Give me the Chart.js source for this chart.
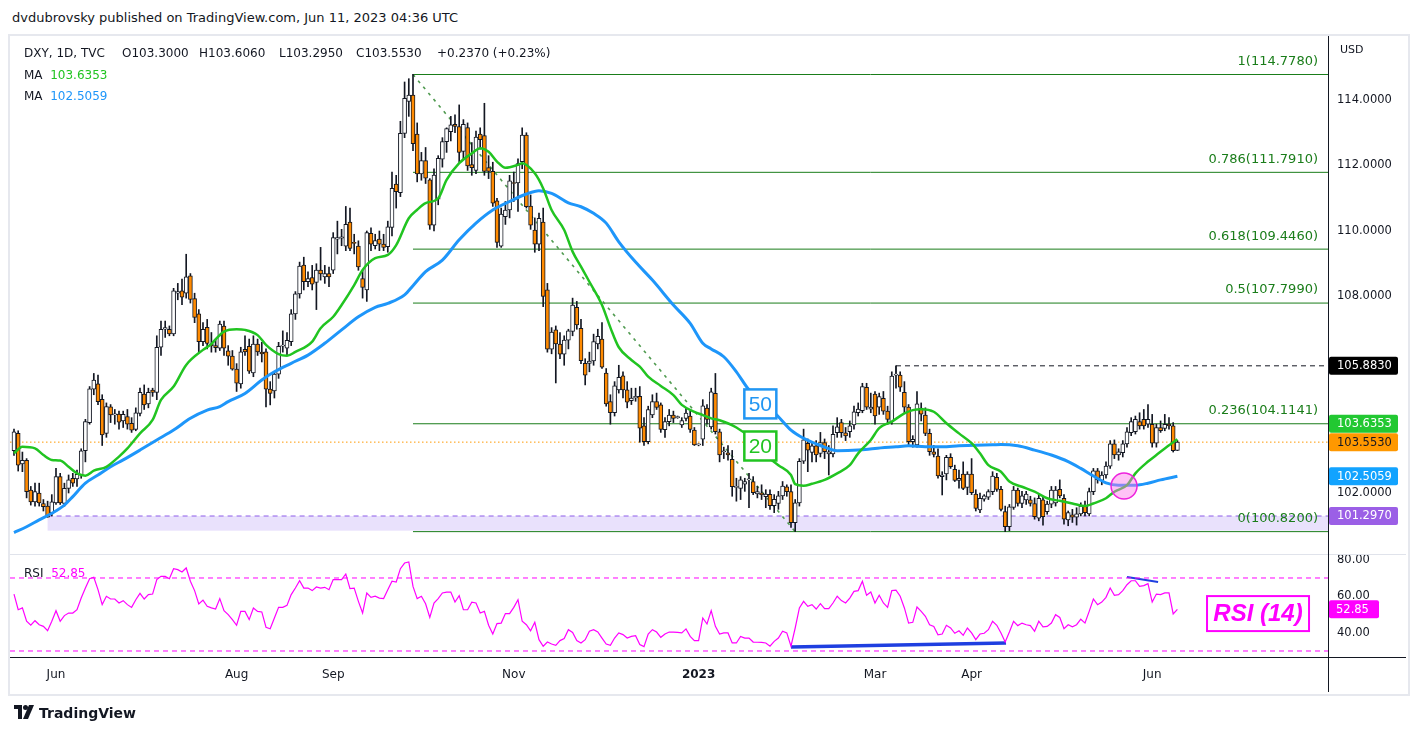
<!DOCTYPE html>
<html>
<head>
<meta charset="utf-8">
<script src="https://cdn.jsdelivr.net/npm/chart.js@4.4.1/dist/chart.umd.min.js"></script>
<style>
  html, body { margin: 0; padding: 0; background: #fff; width: 1418px; height: 736px; overflow: hidden;
    font-family: "DejaVu Sans", sans-serif; color: #131722; }
  #head { position: absolute; left: 12px; top: 10px; font-size: 13px; }
  #frame { position: absolute; left: 8px; top: 34px; width: 1398px; height: 658px; border: 2px solid #e6e8ee; }
  canvas { position: absolute; }
  #cp { left: 10px; top: 36px; }
  #cr { left: 10px; top: 554px; }
  .line { position: absolute; }
  .leg { position: absolute; font-size: 12px; white-space: pre; line-height: 14px; }
  #foot { position: absolute; left: 14px; top: 705px; font-size: 14px; font-weight: bold; }
</style>
</head>
<body>
<div id="head">dvdubrovsky published on TradingView.com, Jun 11, 2023 04:36 UTC</div>
<div id="frame"></div>
<canvas id="cp" width="1395" height="518"></canvas>
<canvas id="cr" width="1395" height="138"></canvas>

<!-- pane separators / axis borders -->
<div class="line" style="left:10px;top:554px;width:1396px;height:1px;background:#e0e3eb"></div>
<div class="line" style="left:10px;top:657px;width:1396px;height:1px;background:#131722"></div>
<div class="line" style="left:1328px;top:36px;width:1px;height:656px;background:#131722"></div>

<div class="leg" style="left:24px;top:46px">DXY, 1D, TVC</div>
<div class="leg" style="left:122px;top:46px">O103.3000</div>
<div class="leg" style="left:199px;top:46px">H103.6060</div>
<div class="leg" style="left:279px;top:46px">L103.2950</div>
<div class="leg" style="left:356px;top:46px">C103.5530</div>
<div class="leg" style="left:437px;top:46px">+0.2370 (+0.23%)</div>
<div class="leg" style="left:24px;top:68px">MA  <span style="color:#21c421">103.6353</span></div>
<div class="leg" style="left:24px;top:89px">MA  <span style="color:#1e96fa">102.5059</span></div>
<div class="leg" style="left:1340px;top:43px;font-size:11px">USD</div>
<div class="leg" style="left:24px;top:566px">RSI  <span style="color:#ff00ff">52.85</span></div>

<div id="foot">
  <svg width="22" height="14" viewBox="0 0 22 14" style="vertical-align:-1px;margin-right:3px">
    <path d="M0 0h8v14h-4V4H0z" fill="#131722"/>
    <circle cx="11.5" cy="2.5" r="2.5" fill="#131722"/>
    <path d="M15 0h5l-6 14h-5z" fill="#131722"/>
  </svg>TradingView
</div>

<script>
// ---- candles (bar index 0 = 18 May 2022 ... 277 = 9 Jun 2023) ----
const openP = [
  103.29,103.82,102.89,103.00,102.09,101.73,102.00,101.68,101.60,101.40,
  101.70,102.50,101.68,102.14,102.45,102.43,102.55,103.29,104.15,105.17,
  105.33,104.86,103.82,104.63,104.38,104.41,104.20,104.33,104.13,103.94,
  104.43,105.02,104.72,105.14,105.07,106.45,107.00,107.00,106.86,108.10,
  108.17,108.10,108.63,107.94,107.47,106.62,107.06,106.55,106.50,106.42,
  107.10,106.34,106.18,105.78,105.33,106.39,106.48,105.67,106.55,106.30,
  106.31,105.17,105.12,105.63,106.48,106.42,106.62,107.47,108.08,108.96,
  108.45,108.58,108.43,108.81,108.60,108.70,108.80,109.75,109.78,109.54,
  110.27,109.65,109.54,108.55,108.20,109.93,109.55,109.75,109.60,109.52,
  110.11,111.43,111.17,112.98,113.96,114.15,112.96,111.74,112.15,111.56,
  110.18,110.97,112.19,112.73,113.03,113.26,113.19,112.43,113.16,112.03,
  111.85,112.96,112.91,111.94,111.82,110.92,109.54,110.44,110.64,111.48,
  111.47,112.12,112.93,110.76,110.03,109.60,110.27,108.20,106.39,106.98,
  106.55,106.24,106.67,106.93,107.67,107.03,105.96,105.96,106.03,106.55,
  106.70,105.66,104.79,104.45,105.15,105.58,105.15,104.82,104.90,104.95,
  104.05,103.57,104.38,104.79,104.69,103.93,104.18,104.38,104.30,104.08,
  104.28,104.35,103.92,103.47,103.64,104.59,104.02,105.04,103.87,103.26,
  103.23,103.03,102.17,102.14,102.27,102.40,102.35,101.97,102.00,101.89,
  101.96,101.61,101.68,101.91,102.19,102.04,101.09,101.70,102.97,103.52,
  103.24,103.44,103.21,103.54,103.19,103.19,103.84,104.15,103.84,103.87,
  104.08,104.45,104.51,105.23,104.56,105.02,104.62,104.89,104.50,104.18,
  105.60,105.60,105.07,104.62,103.57,103.47,104.59,104.38,103.82,103.26,
  103.13,102.50,102.58,103.09,102.72,102.38,102.58,102.17,102.58,101.97,
  101.48,101.81,101.87,102.04,102.48,102.11,101.43,100.97,101.56,102.09,
  101.68,101.79,101.79,101.68,101.23,101.79,101.43,101.66,101.70,102.11,
  101.84,101.18,101.33,101.26,101.36,101.60,101.36,102.04,102.68,102.38,
  102.55,102.82,103.50,103.16,103.23,103.50,103.84,103.87,104.18,104.25,
  104.10,104.10,103.52,104.00,103.97,104.10,104.05,103.30
];
const highP = [
  103.95,103.90,103.25,103.05,102.20,102.30,102.30,101.80,101.75,101.95,
  102.75,102.60,102.30,102.55,102.60,102.70,103.35,104.25,105.25,105.65,
  105.60,105.00,104.75,104.70,104.55,104.50,104.50,104.55,104.30,104.60,
  105.20,105.30,105.20,105.20,106.80,107.25,107.25,107.10,108.25,108.40,
  108.53,109.29,108.70,108.10,107.60,107.20,107.30,106.90,106.70,107.25,
  107.25,106.50,106.35,105.95,106.45,106.80,106.70,106.80,106.70,106.60,
  106.40,105.40,105.70,106.60,106.95,106.90,107.60,108.15,109.05,109.20,
  108.75,108.95,109.00,109.50,108.95,108.90,109.95,110.30,110.05,110.75,
  110.70,109.90,109.70,108.80,110.00,110.10,109.90,110.00,109.90,110.30,
  111.80,111.70,113.35,114.55,114.65,114.78,113.30,112.40,112.55,111.60,
  111.90,112.30,112.85,113.15,113.50,113.55,113.85,113.40,113.30,112.70,
  113.05,113.15,113.90,112.30,112.10,111.00,110.70,110.90,111.70,111.80,
  112.20,113.15,113.00,111.10,110.40,110.55,110.70,108.40,107.05,107.10,
  106.90,106.80,107.00,107.95,107.85,107.30,106.10,106.30,106.85,107.00,
  107.20,105.80,105.00,105.40,105.90,105.70,105.40,105.20,105.20,105.25,
  104.30,104.65,105.00,105.05,104.75,104.30,104.55,104.50,104.35,104.30,
  104.60,104.50,104.00,103.50,104.85,104.70,105.20,105.65,103.95,103.40,
  103.45,103.30,102.45,102.50,102.45,102.60,102.50,102.20,102.25,102.10,
  102.10,101.95,102.05,102.35,102.25,102.25,101.80,103.05,103.95,103.65,
  103.55,103.60,103.85,103.65,103.45,104.05,104.30,104.25,104.00,104.20,
  104.65,104.75,105.35,105.35,105.05,105.10,105.05,105.10,104.65,105.70,
  105.88,105.70,105.40,104.70,103.75,105.10,104.75,104.60,103.95,103.45,
  103.35,102.65,103.15,103.20,102.85,102.70,102.95,102.65,103.05,102.10,
  102.00,101.95,102.10,102.65,102.60,102.20,101.60,101.65,102.20,102.15,
  102.05,102.05,101.90,101.85,101.95,101.90,101.75,102.20,102.20,102.40,
  101.95,101.45,101.50,101.55,101.70,101.75,102.15,102.75,102.75,102.65,
  102.95,103.60,103.62,103.35,103.60,104.00,104.30,104.35,104.45,104.55,
  104.70,104.40,104.10,104.20,104.40,104.30,104.15,103.606
];
const lowP = [
  103.15,102.67,102.65,101.85,101.63,101.60,101.60,101.45,101.26,101.30,
  101.65,101.65,101.60,102.00,102.20,102.20,102.45,102.95,104.10,105.00,
  104.70,103.45,103.70,104.15,104.10,103.95,104.00,103.95,103.85,103.90,
  104.35,104.55,104.60,104.95,104.85,106.20,106.75,106.80,106.80,107.90,
  107.75,107.95,107.80,107.20,106.30,106.50,106.40,106.30,106.30,106.35,
  106.20,105.90,105.75,105.10,105.20,106.20,105.65,105.55,106.20,106.00,
  104.63,104.69,104.90,105.50,106.30,106.20,106.50,107.30,107.95,108.20,
  108.30,108.20,107.60,108.50,108.40,108.30,108.70,109.30,109.55,109.40,
  109.40,109.30,108.80,107.95,107.85,109.40,109.45,109.40,109.40,109.35,
  109.85,110.70,111.05,112.85,113.50,112.45,111.50,111.55,111.45,110.05,
  110.00,110.80,111.95,112.40,112.75,113.00,112.10,112.20,111.85,111.70,
  111.75,112.50,111.70,111.60,110.75,109.50,109.50,110.20,110.40,110.90,
  110.60,111.90,110.70,110.05,109.35,109.40,107.69,106.30,106.25,105.36,
  106.10,105.90,106.40,106.80,107.00,105.95,105.30,105.70,105.90,106.40,
  105.80,104.65,104.10,104.35,105.05,104.90,104.60,104.70,104.80,103.55,
  103.45,103.50,104.30,104.55,103.85,103.70,104.05,104.15,104.28,104.00,
  104.20,103.85,103.45,103.44,103.45,104.10,103.95,103.80,102.95,103.05,
  103.00,101.90,101.75,101.80,102.05,101.55,101.95,101.85,101.80,101.55,
  101.50,101.40,101.50,101.80,101.90,100.95,100.82,101.60,102.90,102.65,
  102.95,102.95,103.10,103.05,102.55,103.10,103.70,103.70,103.60,103.70,
  103.95,104.35,104.45,104.55,104.45,104.10,104.40,104.40,104.10,104.10,
  105.20,105.10,104.45,103.45,103.40,103.40,104.20,103.75,103.15,103.10,
  102.45,101.94,102.40,102.75,102.35,102.15,102.10,101.95,101.95,101.45,
  101.40,101.75,101.80,101.95,102.05,101.45,100.82,100.85,101.50,101.60,
  101.55,101.65,101.60,101.20,101.15,101.02,101.35,101.55,101.60,101.85,
  101.05,101.00,101.10,101.02,101.30,101.30,101.30,101.95,102.30,102.25,
  102.45,102.75,103.05,103.00,103.10,103.40,103.75,103.80,103.95,103.95,
  104.00,103.40,103.40,103.85,103.90,103.95,103.25,103.295
];
const closeP = [
  103.87,102.85,103.00,102.04,101.73,102.04,101.70,101.58,101.26,101.73,
  102.50,101.70,102.14,102.40,102.30,102.57,103.29,104.18,105.18,105.45,
  104.79,103.77,104.64,104.38,104.42,104.16,104.40,104.10,103.92,104.45,
  105.07,104.69,105.07,105.07,106.45,107.00,107.05,106.86,108.17,108.15,
  107.98,108.60,107.91,107.36,106.62,107.00,106.57,106.49,106.44,107.16,
  106.42,106.18,105.78,105.35,106.31,106.31,105.72,106.55,106.31,106.25,
  105.17,105.04,105.63,106.48,106.52,106.66,107.47,108.08,108.93,108.45,
  108.55,108.38,108.81,108.69,108.70,108.60,109.80,109.80,109.82,110.20,
  109.47,109.62,108.90,108.28,109.95,109.60,109.71,109.60,109.50,110.13,
  111.30,111.20,112.98,114.05,114.15,112.67,111.74,112.15,111.61,110.18,
  111.71,112.22,112.73,113.13,113.24,113.19,112.40,113.26,111.99,111.93,
  112.87,112.79,111.82,111.82,110.85,109.65,110.52,110.64,111.53,111.45,
  112.06,112.93,110.74,110.18,109.60,110.39,108.00,106.39,106.91,106.55,
  106.24,106.67,106.95,107.74,107.13,106.04,105.60,106.03,106.62,106.78,
  105.84,104.72,104.45,105.27,105.53,105.15,104.77,104.90,104.95,103.98,
  103.57,104.55,104.79,104.61,103.94,104.18,104.38,104.28,104.31,104.21,
  104.44,103.94,103.47,103.47,104.66,104.25,105.09,103.87,103.16,103.26,
  103.16,102.19,102.17,102.40,102.35,102.42,102.01,102.04,101.95,101.97,
  101.61,101.81,101.91,102.21,102.04,101.09,101.70,102.97,103.62,103.31,
  103.44,103.16,103.54,103.26,103.26,103.79,104.02,103.84,103.74,104.05,
  104.48,104.56,105.25,104.62,104.62,104.35,104.94,104.50,104.25,105.57,
  105.63,105.23,104.62,103.57,103.64,104.72,104.41,103.82,103.26,103.18,
  102.52,102.55,103.09,102.80,102.38,102.45,102.14,102.58,102.01,101.53,
  101.84,101.91,102.04,102.52,102.11,101.50,100.97,101.58,102.09,101.68,
  101.91,101.97,101.68,101.28,101.84,101.28,101.66,102.09,102.09,101.91,
  101.20,101.40,101.26,101.36,101.60,101.40,102.04,102.68,102.40,102.55,
  102.82,103.50,103.16,103.26,103.50,103.87,104.18,104.25,104.05,104.05,
  104.25,103.52,104.00,103.90,104.10,104.05,103.29,103.553
];

// ---- moving averages (bar index, value) ----
const ma20Idx = [0,2,5,7,9,11,13,15,17,19,22,25,27,30,33,35,38,41,45,47,48,50,53,55,58,60,63,65,67,71,73,76,78,81,83,86,89,91,94,96,98,101,103,106,109,111,113,115,117,120,121,124,126,128,131,133,135,137,140,142,144,147,149,151,154,157,159,162,164,166,168,172,176,179,182,185,186,188,190,193,196,199,201,204,206,209,212,214,216,219,222,225,228,230,232,235,237,240,243,246,249,252,255,257,260,262,265,267,270,272,274,277];
const ma20Val = [103.21,103.41,103.36,103.16,103.01,102.99,102.80,102.60,102.53,102.68,102.80,103.11,103.36,103.82,104.23,104.84,105.25,105.91,106.37,106.55,106.69,106.93,107.00,106.98,106.82,106.52,106.24,106.19,106.31,106.62,107.03,107.38,107.74,108.35,108.81,109.17,109.27,109.57,110.39,110.65,110.85,111.00,111.56,112.07,112.37,112.53,112.42,112.12,111.93,112.02,112.07,111.76,111.30,110.64,110.03,109.37,108.91,108.45,107.74,107.05,106.45,106.06,105.86,105.55,105.27,104.99,104.69,104.48,104.38,104.28,104.22,104.00,103.62,103.16,102.85,102.55,102.27,102.22,102.28,102.40,102.60,102.85,103.21,103.62,103.98,104.18,104.43,104.53,104.56,104.48,104.13,103.82,103.52,103.21,102.85,102.65,102.35,102.19,102.04,101.84,101.76,101.68,101.60,101.68,101.84,102.04,102.24,102.60,102.96,103.16,103.36,103.64];
const ma50Idx = [0,3,6,9,12,14,17,20,23,26,30,34,38,42,46,49,51,55,59,62,66,70,74,78,82,86,89,93,95,98,102,106,110,114,118,122,125,128,132,135,138,141,144,148,152,157,161,164,166,169,172,175,178,182,185,188,192,196,201,205,210,213,217,221,225,229,233,235,239,243,247,251,254,257,260,263,267,270,273,277];
const ma50Val = [100.79,100.97,101.18,101.38,101.63,101.89,102.30,102.55,102.80,103.01,103.31,103.62,103.92,104.28,104.53,104.64,104.79,105.04,105.45,105.70,105.96,106.21,106.57,106.98,107.38,107.67,107.79,108.05,108.33,108.76,109.11,109.73,110.24,110.64,110.90,111.13,111.23,111.15,110.86,110.74,110.54,110.24,109.67,109.05,108.50,107.74,107.18,106.57,106.40,106.16,105.70,105.15,104.84,104.33,103.92,103.67,103.45,103.29,103.31,103.36,103.41,103.44,103.41,103.41,103.44,103.46,103.47,103.48,103.44,103.31,103.16,102.96,102.75,102.52,102.31,102.24,102.24,102.30,102.40,102.51];

// ---- RSI(14), one value per bar ----
const rsiVal = [
  61.2,52.6,53.6,46.3,44.1,46.6,44.4,43.5,41.1,46.3,
  52.1,46.3,49.4,50.8,50.8,52.6,59.0,64.5,69.6,70.4,
  63.6,55.4,60.0,58.5,58.5,56.3,57.6,55.4,53.9,58.1,
  61.6,58.5,60.9,61.2,69.1,70.9,70.9,69.6,75.1,74.6,
  73.3,75.5,68.2,63.1,55.8,57.9,54.5,53.6,53.0,58.7,
  52.1,49.9,47.2,44.1,51.7,51.7,47.2,53.6,51.7,51.4,
  43.0,42.2,48.1,53.9,53.9,55.0,60.9,64.5,68.5,64.5,
  64.5,63.1,65.1,64.5,64.9,63.6,69.1,69.1,69.1,72.2,
  64.2,64.5,57.2,50.8,61.8,59.4,60.0,59.0,58.7,63.6,
  68.2,67.8,75.1,78.2,78.8,65.4,58.7,60.0,55.9,48.4,
  56.3,58.7,61.8,62.3,62.3,56.8,60.3,52.6,52.6,56.8,
  56.3,50.8,51.7,44.1,39.3,45.0,45.3,50.5,50.5,53.9,
  58.1,46.3,44.4,41.1,45.7,36.2,32.6,34.9,33.8,33.1,
  35.7,36.8,41.7,40.2,35.7,34.4,36.2,40.8,41.7,40.4,
  37.1,33.8,33.1,37.1,39.9,39.0,37.1,38.0,38.4,33.5,
  32.4,39.3,41.7,40.4,37.5,39.3,40.4,40.3,40.2,39.9,
  42.1,38.0,35.7,35.7,48.1,44.8,52.1,43.5,39.3,39.9,
  39.9,34.4,34.4,38.0,37.1,37.1,34.9,34.8,34.7,34.4,
  32.6,35.3,37.1,40.8,39.9,32.6,42.6,53.6,57.2,54.5,
  55.4,53.0,55.9,53.2,53.2,56.3,60.0,57.6,56.3,59.0,
  62.7,63.1,68.2,60.5,62.3,56.3,60.5,56.3,53.9,63.1,
  63.4,60.0,53.6,45.3,45.7,54.1,51.7,49.0,44.4,43.5,
  38.9,39.3,44.1,42.6,39.7,41.1,38.6,42.6,39.9,36.2,
  39.3,39.7,41.7,46.3,44.1,39.9,34.9,40.4,46.3,43.9,
  45.3,44.4,43.9,40.8,46.3,43.2,43.5,45.3,49.9,48.4,
  42.2,44.4,43.3,44.4,47.4,45.3,51.7,58.5,55.4,56.8,
  59.4,64.5,60.5,60.9,63.1,66.3,68.5,68.5,65.4,65.8,
  66.9,56.8,61.2,60.9,61.8,61.8,50.3,52.85
];

// ---- drawings ----
const fibStart = 95;
const fibLevels = [114.778, 111.791, 109.446, 107.799, 104.1141, 100.82];
const fibLabels = ['1(114.7780)', '0.786(111.7910)', '0.618(109.4460)', '0.5(107.7990)', '0.236(104.1141)', '0(100.8200)'];
const trendIdx = [95, 186];
const trendVal = [114.778, 100.82];
const supportLevel = 101.297, supportStart = 8, zoneBottom = 100.85;
const highLevel = 105.883, highStart = 210;
const lastPrice = 103.553;
const divLowIdx = [185, 236.2], divLowVal = [32.2, 34.4];
const divHighIdx = [265, 272.4], divHighVal = [70.5, 67.8];

const monthIdx = [10, 53, 76, 119, 163, 205, 228, 271];
const monthLabels = ['Jun', 'Aug', 'Sep', 'Nov', '2023', 'Mar', 'Apr', 'Jun'];
const priceTicks = [102, 108, 110, 112, 114];
const rsiTicks = [40, 60, 80];

const xMin = -0.952, xMax = 312.86;
const FONT = 'DejaVu Sans';
const GREEN = '#21c421', BLUE = '#1e96fa', FIB = '#1a7d1a', MAG = '#ff00ff';

Chart.defaults.font.family = FONT;
Chart.defaults.color = '#131722';

const idx = closeP.map((_, i) => i);
const seg = (a, b, v) => [{ x: a, y: v }, { x: b, y: v }];
const pts = (xs, ys) => xs.map((x, k) => ({ x: x, y: ys[k] }));

const lineBase = { type: 'line', pointRadius: 0, fill: false, borderWidth: 1 };

const priceDatasets = [
  { type: 'bar', data: idx.map(i => ({ x: i, y: [lowP[i], highP[i]] })), backgroundColor: '#131722',
    barThickness: 1, grouped: false, order: 6 },
  { type: 'bar', data: idx.map(i => ({ x: i, y: [openP[i], closeP[i]] })),
    backgroundColor: idx.map(i => closeP[i] >= openP[i] ? '#ffffff' : '#ff8a00'),
    borderColor: '#131722', borderWidth: 1, borderSkipped: false, barThickness: 4, minBarLength: 1,
    grouped: false, order: 5 },
  Object.assign({}, lineBase, { data: pts(ma50Idx, ma50Val), borderColor: BLUE, borderWidth: 3,
    cubicInterpolationMode: 'monotone', order: 2 }),
  Object.assign({}, lineBase, { data: pts(ma20Idx, ma20Val), borderColor: GREEN, borderWidth: 2.5,
    cubicInterpolationMode: 'monotone', order: 1 }),
  Object.assign({}, lineBase, { data: pts(trendIdx, trendVal), borderColor: '#4f9a4f', borderWidth: 1.6,
    borderDash: [3, 5], order: 9 }),
  Object.assign({}, lineBase, { data: seg(supportStart, xMax, supportLevel), borderColor: '#8d5ce8', borderDash: [5, 4], order: 9 }),
  Object.assign({}, lineBase, { data: seg(highStart, xMax, highLevel), borderColor: '#131722', borderDash: [5, 4], order: 9 }),
  Object.assign({}, lineBase, { data: seg(xMin, xMax, lastPrice), borderColor: '#ff9800', borderDash: [1.5, 2.5], order: 9 })
];
fibLevels.forEach(v => priceDatasets.push(Object.assign({}, lineBase, {
  data: seg(fibStart, xMax, v), borderColor: FIB, order: 10 })));

function roundRect(ctx, x, y, w, h, r) {
  ctx.beginPath();
  ctx.moveTo(x + r, y); ctx.lineTo(x + w - r, y); ctx.quadraticCurveTo(x + w, y, x + w, y + r);
  ctx.lineTo(x + w, y + h - r); ctx.quadraticCurveTo(x + w, y + h, x + w - r, y + h);
  ctx.lineTo(x + r, y + h); ctx.quadraticCurveTo(x, y + h, x, y + h - r);
  ctx.lineTo(x, y + r); ctx.quadraticCurveTo(x, y, x + r, y); ctx.closePath();
}

function tag(ctx, left, yc, w, text, bg, fg) {
  ctx.fillStyle = bg;
  roundRect(ctx, left, yc - 9, w, 18, 2);
  ctx.fill();
  ctx.fillStyle = fg;
  ctx.font = '11.5px ' + FONT;
  ctx.textAlign = 'left';
  ctx.textBaseline = 'middle';
  ctx.fillText(text, left + 8, yc + 0.5);
}

const priceOverlay = {
  id: 'priceOverlay',
  beforeDatasetsDraw(chart) {
    const { ctx, chartArea: a, scales: { x, y } } = chart;
    const x0 = x.getPixelForValue(supportStart);
    const y0 = y.getPixelForValue(supportLevel), y1 = y.getPixelForValue(zoneBottom);
    ctx.save();
    ctx.fillStyle = '#e9e1fc';
    ctx.fillRect(x0, y0, a.right - x0, y1 - y0);
    ctx.restore();
  },
  afterDatasetsDraw(chart) {
    const { ctx, chartArea: a, scales: { x, y } } = chart;
    ctx.save();
    // fib labels
    ctx.font = '13px ' + FONT;
    ctx.fillStyle = FIB;
    ctx.textAlign = 'right';
    ctx.textBaseline = 'middle';
    fibLevels.forEach((v, k) => ctx.fillText(fibLabels[k], a.right - 10, y.getPixelForValue(v) - 13));

    // small anchor tick at the start of the swing-high line
    const hx = x.getPixelForValue(highStart), hy = y.getPixelForValue(highLevel);
    ctx.strokeStyle = '#131722';
    ctx.lineWidth = 1;
    ctx.beginPath();
    ctx.moveTo(hx, hy);
    ctx.lineTo(hx, hy + 7);
    ctx.stroke();

    // 50 / 20 boxes
    const boxes = [{ t: '50', v: 104.72, c: '#2196f3' }, { t: '20', v: 103.435, c: GREEN }];
    boxes.forEach(b => {
      const cx = x.getPixelForValue(177.7), cy = y.getPixelForValue(b.v);
      ctx.fillStyle = '#fff';
      ctx.fillRect(cx - 16, cy - 14.5, 32, 29);
      ctx.strokeStyle = b.c;
      ctx.lineWidth = 2.5;
      ctx.strokeRect(cx - 16, cy - 14.5, 32, 29);
      ctx.fillStyle = b.c;
      ctx.font = '21px "Liberation Sans"';
      ctx.textAlign = 'center';
      ctx.textBaseline = 'middle';
      ctx.fillText(b.t, cx, cy + 1);
    });

    // crossover circle
    ctx.beginPath();
    ctx.arc(x.getPixelForValue(264.3), y.getPixelForValue(102.21), 13, 0, Math.PI * 2);
    ctx.fillStyle = 'rgba(255, 120, 235, 0.45)';
    ctx.fill();
    ctx.strokeStyle = '#ee22dd';
    ctx.lineWidth = 1.5;
    ctx.stroke();

    // price axis tags
    const L = a.right + 1;
    tag(ctx, L, y.getPixelForValue(highLevel), 69, '105.8830', '#000000', '#ffffff');
    tag(ctx, L, y.getPixelForValue(ma20Val[ma20Val.length - 1]) - 15.5, 69, '103.6353', '#22c832', '#ffffff');
    tag(ctx, L, y.getPixelForValue(lastPrice), 69, '103.5530', '#ff9800', '#131722');
    tag(ctx, L, y.getPixelForValue(ma50Val[ma50Val.length - 1]), 69, '102.5059', '#12a3ff', '#ffffff');
    tag(ctx, L, y.getPixelForValue(supportLevel), 69, '101.2970', '#9b5fe6', '#ffffff');
    ctx.restore();
  }
};

function fixY(s) { s.width = 77; s.paddingTop = 0; s.paddingBottom = 0; }

new Chart(document.getElementById('cp'), {
  type: 'bar',
  data: { datasets: priceDatasets },
  options: {
    responsive: false, animation: false, devicePixelRatio: 1,
    layout: { padding: 0 },
    plugins: { legend: { display: false }, tooltip: { enabled: false } },
    scales: {
      x: { type: 'linear', min: xMin, max: xMax, offset: false, display: false },
      y: {
        position: 'right', min: 100.137, max: 115.954,
        grid: { display: false, drawTicks: false }, border: { display: false },
        afterBuildTicks: s => { s.ticks = priceTicks.map(v => ({ value: v })); },
        afterFit: fixY,
        ticks: { padding: 9, font: { size: 11.5 }, color: '#131722', callback: v => v.toFixed(4) }
      }
    }
  },
  plugins: [priceOverlay]
});

// ---- RSI pane ----
const rsiOverlay = {
  id: 'rsiOverlay',
  afterDatasetsDraw(chart) {
    const { ctx, chartArea: a, scales: { x, y } } = chart;
    ctx.save();
    const cx = x.getPixelForValue(296.2), cy = y.getPixelForValue(50.5);
    ctx.fillStyle = '#fff';
    ctx.fillRect(cx - 51, cy - 17.5, 102, 35);
    ctx.strokeStyle = MAG;
    ctx.lineWidth = 2;
    ctx.strokeRect(cx - 51, cy - 17.5, 102, 35);
    ctx.fillStyle = MAG;
    ctx.font = 'italic bold 24px "Liberation Sans"';
    ctx.textAlign = 'center';
    ctx.textBaseline = 'middle';
    ctx.fillText('RSI (14)', cx, cy + 1);
    // last value tag
    const ty = y.getPixelForValue(rsiVal[rsiVal.length - 1]);
    ctx.fillStyle = MAG;
    roundRect(ctx, a.right + 1, ty - 9, 50, 18, 2);
    ctx.fill();
    ctx.fillStyle = '#fff';
    ctx.font = '11.5px ' + FONT;
    ctx.textAlign = 'left';
    ctx.fillText('52.85', a.right + 8, ty + 0.5);
    ctx.restore();
  }
};

new Chart(document.getElementById('cr'), {
  type: 'line',
  data: {
    datasets: [
      Object.assign({}, lineBase, { data: seg(xMin, xMax, 70), borderColor: MAG, borderDash: [5, 4] }),
      Object.assign({}, lineBase, { data: seg(xMin, xMax, 30), borderColor: MAG, borderDash: [5, 4] }),
      Object.assign({}, lineBase, { data: idx.map(i => ({ x: i, y: rsiVal[i] })), borderColor: MAG, borderWidth: 1.2 }),
      Object.assign({}, lineBase, { data: pts(divLowIdx, divLowVal), borderColor: '#1f3fe0', borderWidth: 3.5 }),
      Object.assign({}, lineBase, { data: pts(divHighIdx, divHighVal), borderColor: '#1f3fe0', borderWidth: 2 })
    ]
  },
  options: {
    responsive: false, animation: false, devicePixelRatio: 1,
    layout: { padding: 0 },
    plugins: { legend: { display: false }, tooltip: { enabled: false } },
    scales: {
      x: {
        type: 'linear', min: xMin, max: xMax, offset: false,
        grid: { display: false, drawTicks: false }, border: { display: false },
        afterBuildTicks: s => { s.ticks = monthIdx.map(v => ({ value: v })); },
        afterFit: s => { s.height = 35; s.paddingLeft = 0; s.paddingRight = 0; },
        ticks: {
          autoSkip: false, maxRotation: 0, padding: 11, color: '#131722',
          callback: (v, k) => monthLabels[k],
          font: c => ({ size: 12, weight: c.tick && c.tick.label === '2023' ? 'bold' : 'normal' })
        }
      },
      y: {
        position: 'right', min: 26.71, max: 83.15,
        grid: { display: false, drawTicks: false }, border: { display: false },
        afterBuildTicks: s => { s.ticks = rsiTicks.map(v => ({ value: v })); },
        afterFit: fixY,
        ticks: { padding: 9, font: { size: 11.5 }, color: '#131722', callback: v => v.toFixed(2) }
      }
    }
  },
  plugins: [rsiOverlay]
});
</script>
</body>
</html>
